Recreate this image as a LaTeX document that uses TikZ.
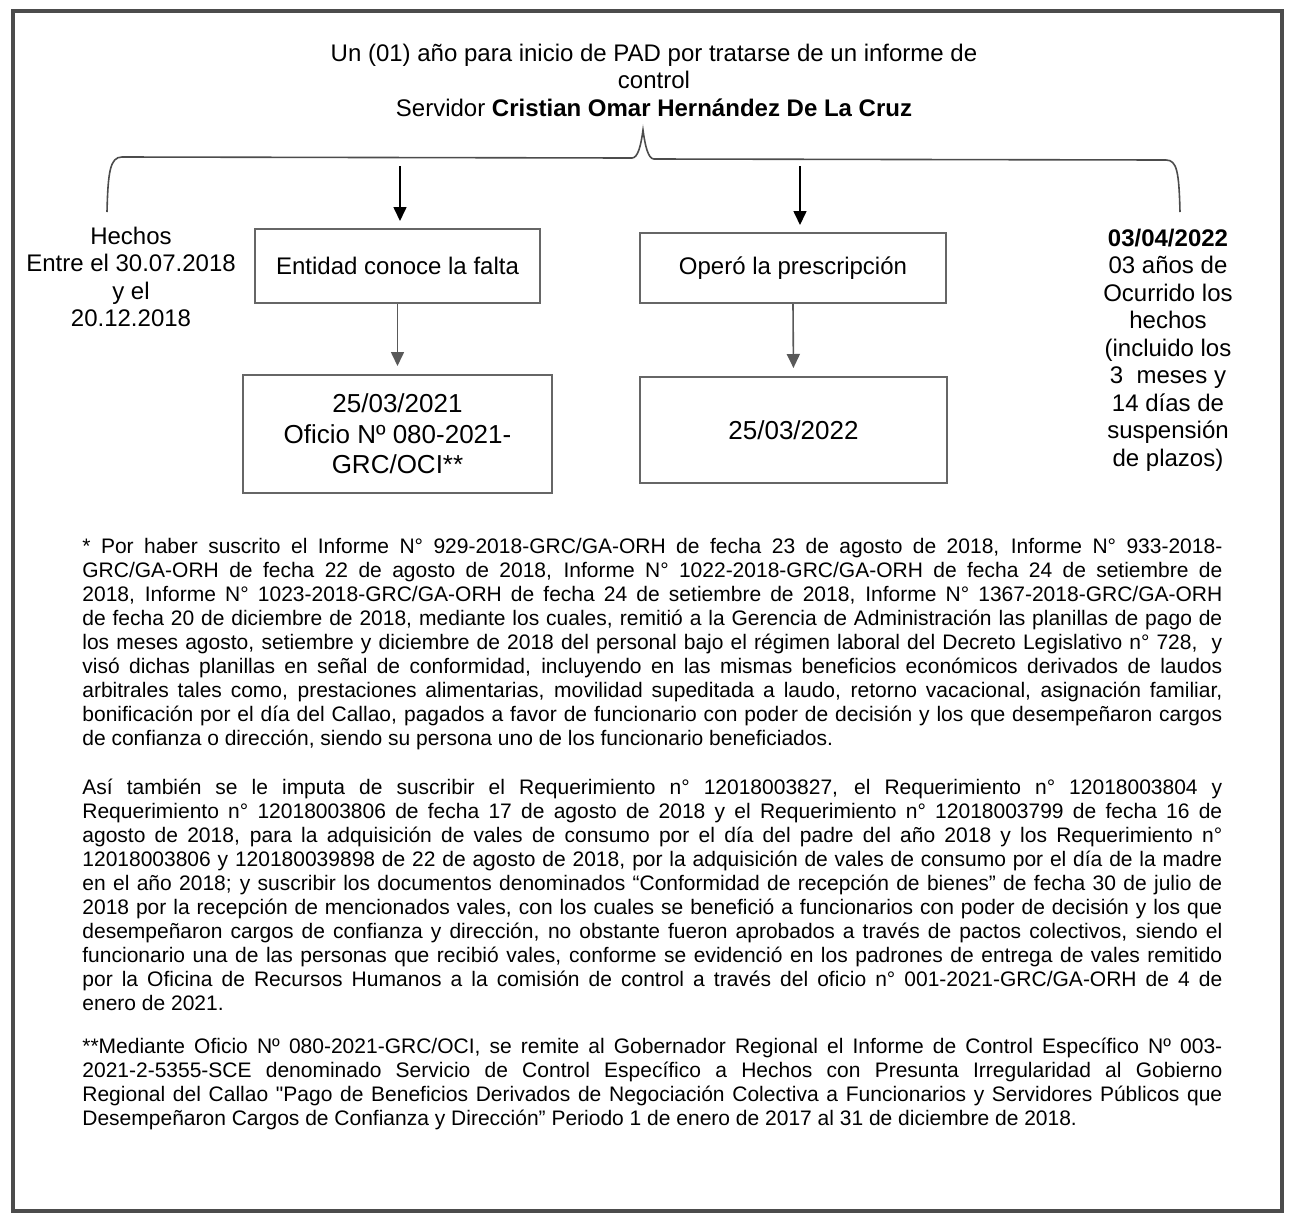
\documentclass[tikz,border=0pt]{standalone}
\usepackage{fontspec}
\setmainfont{Liberation Sans}
\usetikzlibrary{arrows.meta,positioning}
\tikzset{
  box/.style={draw=black!60, line width=1pt, align=center, inner sep=2pt, font=\fontsize{12}{15}\selectfont},
  datebox/.style={box, font=\fontsize{13}{15.25}\selectfont},
  sidetext/.style={align=center, inner sep=0pt, font=\fontsize{12}{13.75}\selectfont},
  arrow/.style={-{Triangle[length=7pt,width=6.5pt]}, line width=0.8pt},
  greyarrow/.style={arrow, draw=black!65},
  brace/.style={draw=black!70, line width=0.8pt},
  frame/.style={draw=black!70, line width=2pt},
  note/.style={text width=570pt, align=justify, inner sep=0pt, anchor=north west, font=\fontsize{10.5}{12}\selectfont,
    execute at begin node={\tolerance=10000 \hyphenpenalty=10000 \relax}}
}

\begin{document}
\begin{tikzpicture}[x=0.5pt, y=-0.5pt]
\useasboundingbox (0,0) rectangle (1292,1217);
\draw[frame] (13,11) rectangle (1282,1211);
% ---- header and brace ----
\node[sidetext] (head) at (654,80) {Un (01) año para inicio de PAD por tratarse de un informe de\\control\\Servidor \textbf{Cristian Omar Hernández De La Cruz}};
\draw[brace] (107,212) .. controls (108,172) and (110,157) .. (122,157) -- (632,158)
  .. controls (638,158) and (641,145) .. (643,130) .. controls (645,145) and (648,159) .. (654,159)
  -- (1166,160) .. controls (1177,160) and (1179,172) .. (1180,212);
\coordinate (a1) at (400,166);
\coordinate (a2) at (800,166);
% ---- boxes ----
\node[box, minimum width=142.5pt, minimum height=37pt] (conoce) at (397.5,266) {Entidad conoce la falta};
\node[box, minimum width=153pt, minimum height=35pt] (prescr) at (793,268) {Operó la prescripción};
\node[datebox, minimum width=154.5pt, minimum height=59pt] (oficio) at (397.5,434) {25/03/2021\\Oficio Nº 080-2021-\\GRC/OCI**};
\node[datebox, minimum width=153.5pt, minimum height=53pt] (fecha) at (793.5,430) {25/03/2022};
\draw[arrow, shorten >=3.5pt] (a1) -- (a1 |- conoce.north);
\draw[arrow, shorten >=3.5pt] (a2) -- (a2 |- prescr.north);
\draw[greyarrow, shorten >=4pt] (conoce.south) -- (oficio.north);
\draw[greyarrow, shorten >=4pt] (prescr.south) -- (fecha.north);
% ---- side texts ----
\node[sidetext] (hechos) at (131,277) {Hechos\\Entre el 30.07.2018\\y el\\20.12.2018};
\node[sidetext] (plazo) at (1168,350) {\textbf{03/04/2022}\\03 años de\\Ocurrido los\\hechos\\(incluido los\\3\ \ meses y\\14 días de\\suspensión\\de plazos)};
% ---- notes ----
\node[note] (nota1) at (82,538) {* Por haber suscrito el Informe N° 929-2018-GRC/GA-ORH de fecha 23 de agosto de 2018, Informe N° 933-2018-\linebreak
GRC/GA-ORH de fecha 22 de agosto de 2018, Informe N° 1022-2018-GRC/GA-ORH de fecha 24 de setiembre de\linebreak
2018, Informe N° 1023-2018-GRC/GA-ORH de fecha 24 de setiembre de 2018, Informe N° 1367-2018-GRC/GA-ORH\linebreak
de fecha 20 de diciembre de 2018, mediante los cuales, remitió a la Gerencia de Administración las planillas de pago de\linebreak
los meses agosto, setiembre y diciembre de 2018 del personal bajo el régimen laboral del Decreto Legislativo n° 728,\ \ y\linebreak
visó dichas planillas en señal de conformidad, incluyendo en las mismas beneficios económicos derivados de laudos\linebreak
arbitrales tales como, prestaciones alimentarias, movilidad supeditada a laudo, retorno vacacional, asignación familiar,\linebreak
bonificación por el día del Callao, pagados a favor de funcionario con poder de decisión y los que desempeñaron cargos\linebreak
de confianza o dirección, siendo su persona uno de los funcionario beneficiados.};
\node[note] (nota2) at (82,779) {Así también se le imputa de suscribir el Requerimiento n° 12018003827, el Requerimiento n° 12018003804 y\linebreak
Requerimiento n° 12018003806 de fecha 17 de agosto de 2018 y el Requerimiento n° 12018003799 de fecha 16 de\linebreak
agosto de 2018, para la adquisición de vales de consumo por el día del padre del año 2018 y los Requerimiento n°\linebreak
12018003806 y 120180039898 de 22 de agosto de 2018, por la adquisición de vales de consumo por el día de la madre\linebreak
en el año 2018; y suscribir los documentos denominados “Conformidad de recepción de bienes” de fecha 30 de julio de\linebreak
2018 por la recepción de mencionados vales, con los cuales se benefició a funcionarios con poder de decisión y los que\linebreak
desempeñaron cargos de confianza y dirección, no obstante fueron aprobados a través de pactos colectivos, siendo el\linebreak
funcionario una de las personas que recibió vales, conforme se evidenció en los padrones de entrega de vales remitido\linebreak
por la Oficina de Recursos Humanos a la comisión de control a través del oficio n° 001-2021-GRC/GA-ORH de 4 de\linebreak
enero de 2021.};
\node[note] (nota3) at (82,1038) {**Mediante Oficio Nº 080-2021-GRC/OCI, se remite al Gobernador Regional el Informe de Control Específico Nº 003-\linebreak
2021-2-5355-SCE denominado Servicio de Control Específico a Hechos con Presunta Irregularidad al Gobierno\linebreak
Regional del Callao \textquotedbl Pago de Beneficios Derivados de Negociación Colectiva a Funcionarios y Servidores Públicos que\linebreak
Desempeñaron Cargos de Confianza y Dirección” Periodo 1 de enero de 2017 al 31 de diciembre de 2018.};
\end{tikzpicture}
\end{document}
